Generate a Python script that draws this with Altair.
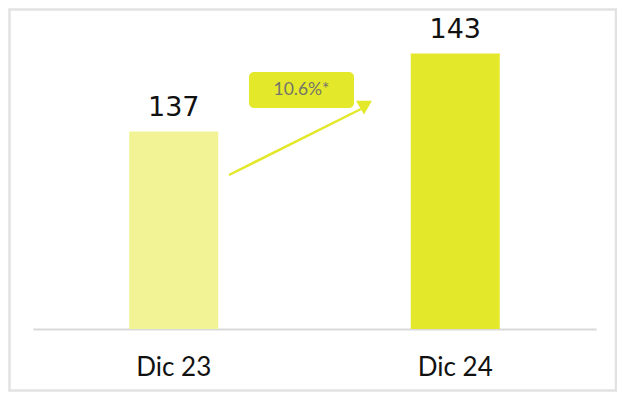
import altair as alt
import pandas as pd

periods = ["Dic 23", "Dic 24"]
values = [137, 143]
bar_colors = ["#f1f394", "#e3e82a"]
change_label = ["10.6%*"]
y_base = 121.8

df = pd.DataFrame({"period": periods, "value": values})
lab = pd.DataFrame({"label": change_label})

W, H = 563, 321
YELLOW = "#e3e82a"

x_enc = alt.X(
    "period:N",
    sort=periods,
    scale=alt.Scale(paddingInner=0, paddingOuter=0),
    axis=alt.Axis(
        title=None, labelAngle=0, ticks=False, domainColor="#d9d9d9", domainWidth=2,
        labelFontSize=26, labelFont="Lato", labelColor="#111111", labelPadding=25,
    ),
)
y_enc = alt.Y("value:Q", scale=alt.Scale(domain=[y_base, 146.5], zero=False, nice=False), axis=None)

frame = alt.Chart(lab).mark_rect(fill="white", fillOpacity=0, stroke="#e2e2e2", strokeWidth=2.5).encode(
    x=alt.value(-23.5), x2=alt.value(W + 20), y=alt.value(1.5), y2=alt.value(H + 61.5)
)

bars = alt.Chart(df).mark_bar(size=89).encode(
    x=x_enc,
    y=y_enc,
    y2=alt.datum(y_base),
    color=alt.Color("period:N", scale=alt.Scale(domain=periods, range=bar_colors), legend=None),
)

texts = alt.Chart(df).mark_text(
    font="DejaVu Sans", fontSize=27, color="#111111", baseline="alphabetic", dy=-15
).encode(x=alt.X("period:N", sort=periods), y=alt.Y("value:Q"), text=alt.Text("value:Q"))

box = alt.Chart(lab).mark_rect(cornerRadius=5, color=YELLOW).encode(
    x=alt.value(216), x2=alt.value(321), y=alt.value(64), y2=alt.value(100)
)
box_text = alt.Chart(lab).mark_text(
    font="Lato", fontSize=17.5, color="#74746a", baseline="middle", align="center"
).encode(x=alt.value(268.5), y=alt.value(82), text="label:N")

arrow = alt.Chart(lab).mark_rule(color=YELLOW, strokeWidth=2.5).encode(
    x=alt.value(196), y=alt.value(167), x2=alt.value(328), y2=alt.value(101)
)
head = alt.Chart(lab).mark_point(shape="triangle-down", filled=True, size=256, color=YELLOW, opacity=1).encode(
    x=alt.value(331), y=alt.value(99.6)
)

chart = alt.layer(frame, bars, texts, arrow, head, box, box_text).properties(
    width=W, height=H,
    background="white",
    autosize=alt.AutoSizeParams(type="none"),
    padding={"left": 25, "top": 0, "right": 21, "bottom": 63},
).configure_view(stroke=None)

chart.save("out.html", embed_options={"renderer": "svg", "actions": False})
